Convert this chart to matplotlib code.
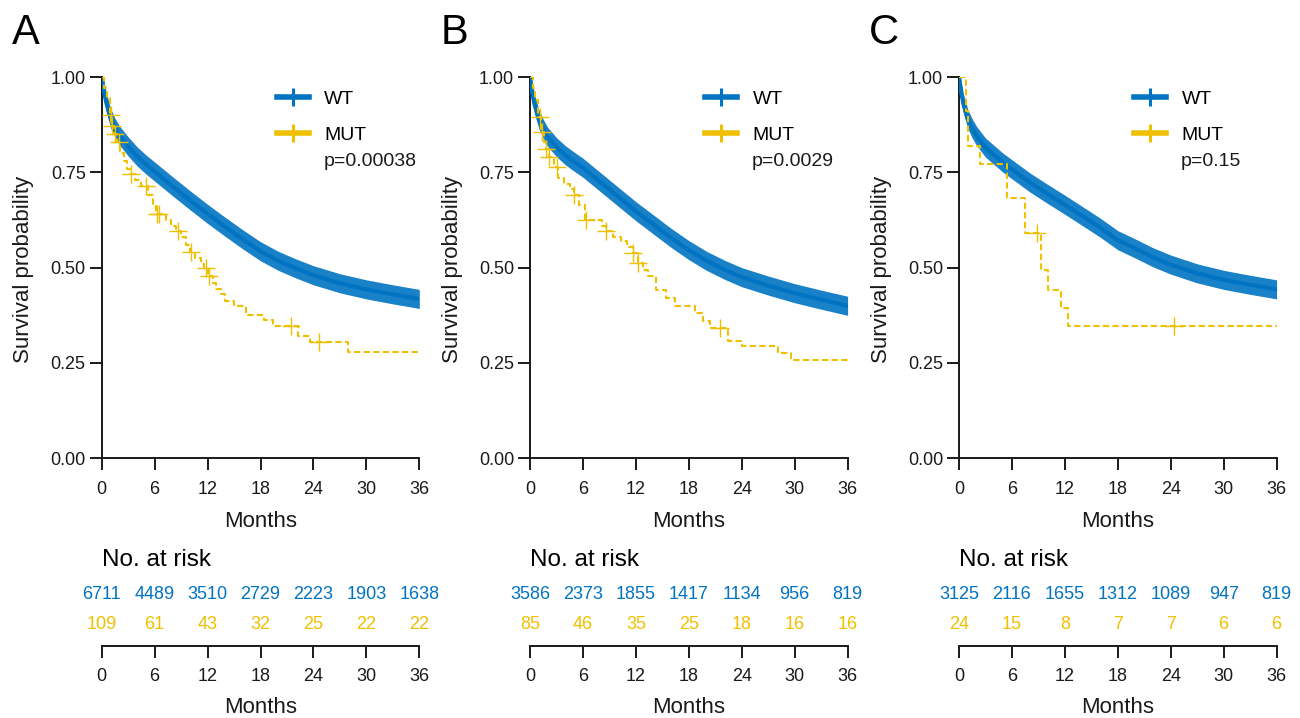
import numpy as np
import matplotlib
matplotlib.use("Agg")
import matplotlib.pyplot as plt
from matplotlib.lines import Line2D

plt.rcParams['font.family'] = ['Liberation Sans', 'DejaVu Sans']

BLUE = "#0073C2"
YELLOW = "#EFC000"
INK = "#1a1a1a"

# ---------------- data ----------------
panels = ["A", "B", "C"]
groups = ["WT", "MUT"]
pvalues = ["p=0.00038", "p=0.0029", "p=0.15"]
months_ticks = [0, 6, 12, 18, 24, 30, 36]
surv_ticks = [0.0, 0.25, 0.5, 0.75, 1.0]

wt_time = [0, 0.25, 0.5, 1, 1.5, 2, 3, 4, 5, 6, 8, 10, 12, 14, 16, 18, 20, 22, 24, 27, 30, 33, 36]
wt_surv_A = [1.0, 0.965, 0.935, 0.893, 0.867, 0.847, 0.818, 0.792, 0.771, 0.752, 0.714, 0.677, 0.641,
             0.607, 0.574, 0.543, 0.518, 0.498, 0.48, 0.459, 0.443, 0.43, 0.418]
wt_surv_B = [1.0, 0.96, 0.93, 0.89, 0.864, 0.843, 0.816, 0.795, 0.778, 0.762, 0.724, 0.686, 0.648,
             0.613, 0.578, 0.546, 0.518, 0.495, 0.475, 0.453, 0.433, 0.416, 0.40]
wt_surv_C = [1.0, 0.96, 0.93, 0.89, 0.865, 0.845, 0.815, 0.795, 0.775, 0.758, 0.724, 0.694, 0.665,
             0.635, 0.605, 0.572, 0.55, 0.527, 0.508, 0.485, 0.468, 0.455, 0.443]

mut_time_A = [0, 0.3, 0.6, 0.9, 1.1, 1.4, 1.7, 2.1, 2.5, 2.9, 3.2, 3.8, 4.5, 5.3, 5.8, 6.2, 7.3, 7.9,
              8.4, 9.0, 9.5, 10.0, 10.6, 11.2, 11.6, 12.1, 12.6, 13.0, 13.5, 14.0, 15.0, 16.3, 18.4,
              19.4, 22.3, 23.6, 27.9]
mut_surv_A = [1.0, 0.972, 0.945, 0.90, 0.872, 0.85, 0.83, 0.80, 0.78, 0.76, 0.745, 0.73, 0.715, 0.69,
              0.665, 0.64, 0.625, 0.61, 0.595, 0.58, 0.56, 0.54, 0.525, 0.51, 0.50, 0.478, 0.46,
              0.445, 0.43, 0.412, 0.40, 0.377, 0.362, 0.346, 0.32, 0.304, 0.278]
mut_cens_A = [1.0, 1.2, 1.5, 2.0, 3.3, 5.0, 6.3, 6.5, 8.6, 10.1, 11.8, 12.2, 21.5, 24.6]

mut_time_B = [0, 0.3, 0.6, 0.9, 1.2, 1.6, 1.8, 2.2, 2.7, 3.2, 3.9, 4.5, 5.0, 5.5, 6.2, 8.2, 8.6, 9.4,
              10.3, 11.0, 11.7, 12.2, 12.8, 13.4, 14.3, 15.4, 16.4, 18.7, 19.6, 20.4, 22.4, 24.0,
              28.1, 29.6]
mut_surv_B = [1.0, 0.97, 0.94, 0.895, 0.857, 0.83, 0.81, 0.79, 0.765, 0.735, 0.72, 0.705, 0.69, 0.665,
              0.626, 0.61, 0.595, 0.58, 0.569, 0.553, 0.538, 0.512, 0.495, 0.477, 0.442, 0.42, 0.399,
              0.381, 0.36, 0.342, 0.307, 0.294, 0.277, 0.259]
mut_cens_B = [1.1, 1.4, 1.8, 2.2, 3.1, 5.0, 6.3, 8.6, 11.7, 12.2, 21.5]

mut_time_C = [0, 0.85, 1.05, 2.4, 5.4, 7.5, 9.3, 10.1, 11.6, 12.4]
mut_surv_C = [1.0, 0.91, 0.818, 0.771, 0.682, 0.591, 0.495, 0.442, 0.395, 0.346]
mut_cens_C = [8.8, 24.4]

risk_wt_A = [6711, 4489, 3510, 2729, 2223, 1903, 1638]
risk_mut_A = [109, 61, 43, 32, 25, 22, 22]
risk_wt_B = [3586, 2373, 1855, 1417, 1134, 956, 819]
risk_mut_B = [85, 46, 35, 25, 18, 16, 16]
risk_wt_C = [3125, 2116, 1655, 1312, 1089, 947, 819]
risk_mut_C = [24, 15, 8, 7, 7, 6, 6]

wt_surv = [wt_surv_A, wt_surv_B, wt_surv_C]
mut_time = [mut_time_A, mut_time_B, mut_time_C]
mut_surv = [mut_surv_A, mut_surv_B, mut_surv_C]
mut_cens = [mut_cens_A, mut_cens_B, mut_cens_C]
risk_wt = [risk_wt_A, risk_wt_B, risk_wt_C]
risk_mut = [risk_mut_A, risk_mut_B, risk_mut_C]

# ---------------- layout (pixels) ----------------
W, H = 1300, 718
fig = plt.figure(figsize=(W / 100, H / 100), dpi=100)


def fx(px):
    return px / W


def fy(py):
    return 1 - py / H


left_px = [101.7, 530.0, 959.0]
ax_w = 317.6
main_top, main_bot = 77.0, 458.3
risk_top, risk_bot = 540.0, 646.0
band_half = 0.025
main_h = main_bot - main_top

for i in range(3):
    L = left_px[i]
    ax = fig.add_axes([fx(L), fy(main_bot), ax_w / W, main_h / H])
    ax.set_xlim(0, 36)
    ax.set_ylim(0, 1)
    for s in ["top", "right"]:
        ax.spines[s].set_visible(False)
    for s in ["left", "bottom"]:
        ax.spines[s].set_linewidth(1.4)
        ax.spines[s].set_color(INK)
    ax.set_xticks(months_ticks)
    ax.set_yticks(surv_ticks)
    ax.set_yticklabels([f"{v:.2f}" for v in surv_ticks])
    ax.tick_params(direction="out", length=8.5, width=1.4, labelsize=13,
                   colors=INK, labelcolor=INK)
    ax.tick_params(axis="x", pad=7.5)
    ax.tick_params(axis="y", pad=3)

    # WT curve with dense censoring marks
    t = np.array(wt_time)
    s = np.array(wt_surv[i])
    ax.fill_between(t, s - band_half, s + band_half, color=BLUE, alpha=0.9, lw=0, zorder=2)
    ax.plot(t, s, color=BLUE, lw=3, zorder=3)

    # MUT step curve
    mt = np.append(mut_time[i], 36)
    ms = np.append(mut_surv[i], mut_surv[i][-1])
    ax.step(mt, ms, where="post", color=YELLOW, lw=1.5, ls=(0, (3, 1.6)), zorder=4)
    ct = np.array(mut_cens[i])
    idx = np.searchsorted(np.array(mut_time[i]), ct, side="right") - 1
    cs = np.array(mut_surv[i])[idx]
    ax.plot(ct, cs, ls="none", marker="+", ms=13, mew=1.0, color=YELLOW, zorder=5)

    handles = [Line2D([], [], color=BLUE, lw=4, marker="+", ms=13, mew=2.2),
               Line2D([], [], color=YELLOW, lw=4, marker="+", ms=13, mew=2.2)]
    ax.legend(handles, groups, loc="upper left",
              bbox_to_anchor=((276.5 - 101.7) / ax_w, (main_bot - 90.5) / main_h),
              frameon=False, fontsize=14, handlelength=1.65, handletextpad=0.8,
              labelspacing=0.93, borderpad=0, borderaxespad=0)
    ax.text((323.6 - 101.7) / ax_w, (main_bot - 165.5) / main_h, pvalues[i],
            transform=ax.transAxes, fontsize=14, va="baseline", ha="left", color=INK)

    # risk table
    rx = fig.add_axes([fx(L), fy(risk_bot), ax_w / W, (risk_bot - risk_top) / H])
    rx.set_xlim(0, 36)
    rx.set_ylim(0, 1)
    for sp in ["top", "right", "left"]:
        rx.spines[sp].set_visible(False)
    rx.spines["bottom"].set_linewidth(1.4)
    rx.spines["bottom"].set_color(INK)
    rx.set_yticks([])
    rx.set_xticks(months_ticks)
    rx.tick_params(direction="out", length=8.5, width=1.4, labelsize=13, pad=7.5,
                   colors=INK, labelcolor=INK)
    tr = rx.get_xaxis_transform()
    rh = risk_bot - risk_top
    for m, n in zip(months_ticks, risk_wt[i]):
        rx.text(m, (risk_bot - 599) / rh, str(n), transform=tr,
                ha="center", va="baseline", fontsize=13, color=BLUE)
    for m, n in zip(months_ticks, risk_mut[i]):
        rx.text(m, (risk_bot - 629) / rh, str(n), transform=tr,
                ha="center", va="baseline", fontsize=13, color=YELLOW)
    rx.text(0, (risk_bot - 566) / rh, "No. at risk", transform=tr,
            ha="left", va="baseline", fontsize=17.5, color="black")

    cx = L + ax_w / 2
    fig.text(fx(cx), fy(527), "Months", ha="center", va="baseline", fontsize=16, color=INK)
    fig.text(fx(cx), fy(713), "Months", ha="center", va="baseline", fontsize=16, color=INK)
    fig.text(fx(L - 77.7), fy(269.5), "Survival probability", rotation=90,
             ha="center", va="center", fontsize=16, color=INK)
    fig.text(fx(L - 89.7), fy(44), panels[i], ha="left", va="baseline", fontsize=30, color="black")

fig.savefig("out.png", dpi=100)
